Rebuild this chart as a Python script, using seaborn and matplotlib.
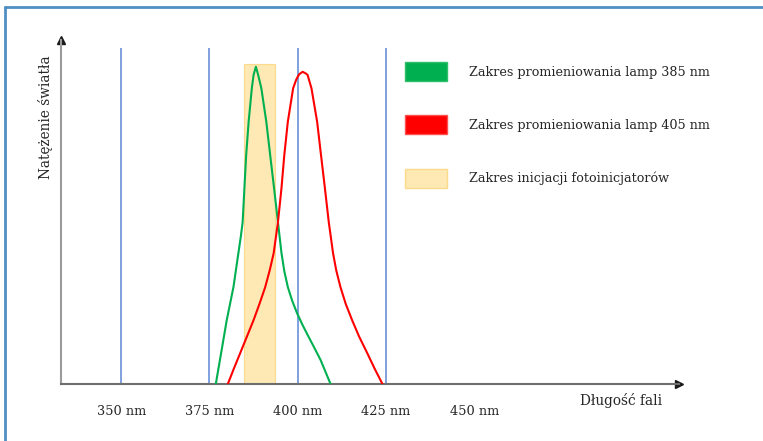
import numpy as np
import pandas as pd
import matplotlib
matplotlib.use('Agg')
import matplotlib.pyplot as plt
import seaborn as sns
from matplotlib.patches import Patch
from matplotlib.lines import Line2D

# values (wavelength in nm, relative intensity)
green_nm = [376.8, 378.3, 379.9, 381.8, 383.2, 383.9, 384.4, 384.9, 385.4, 386.1, 387.0, 387.5,
            388.15, 388.8, 389.7, 391.1, 392.2, 393.3, 394.4, 395.4, 396.2, 397.2, 398.4, 399.8,
            401.4, 403.1, 404.8, 406.5, 409.3]
green_val = [0, 9.7, 20.1, 30.5, 41.2, 46.5, 50.9, 61.6, 72.0, 82.5, 93.0, 97.2,
             99.8, 97.2, 93.0, 82.5, 72.0, 61.6, 50.9, 41.2, 35.5, 30.5, 26.3, 22.3,
             18.5, 14.8, 11.2, 7.5, 0]
red_nm = [380.2, 381.9, 383.7, 385.6, 387.5, 389.2, 390.8, 392.1, 393.2, 394.4, 395.4, 396.2,
          397.2, 398.7, 399.6, 400.4, 401.4, 402.4, 402.8, 403.9, 405.5, 406.6, 407.7, 408.8,
          410.0, 410.9, 412.1, 413.6, 415.4, 417.4, 419.7, 421.8, 424.0]
red_val = [0, 4.8, 9.7, 14.9, 20.1, 25.3, 30.5, 35.9, 41.2, 50.9, 61.6, 72.0,
           82.5, 93.0, 95.8, 97.4, 98.2, 97.6, 97.2, 93.0, 82.5, 72.0, 61.6, 50.9,
           41.2, 35.8, 30.5, 25.2, 20.1, 14.9, 9.7, 4.8, 0]
band_start, band_end, band_top = 384.7, 393.5, 100.8
ref_lines = [350, 375, 400, 425]
tick_pos = [350, 375, 400, 425, 450]
tick_labels = ['350 nm', '375 nm', '400 nm', '425 nm', '450 nm']
legend_labels = ['Zakres promieniowania lamp 385 nm',
                 'Zakres promieniowania lamp 405 nm',
                 'Zakres inicjacji fotoinicjatorów']

sns.set_style('white')
plt.rcParams['font.family'] = ['DejaVu Serif']

fig = plt.figure(figsize=(7.63, 4.41), dpi=100)
W, H = 763, 441
ax = fig.add_axes([61 / W, (H - 384) / H, (679 - 61) / W, (384 - 40) / H])

ax.bar((band_start + band_end) / 2, band_top, width=band_end - band_start,
       color='#FEE9B4', edgecolor='#FBDA8C', linewidth=0.8, zorder=1)
ax.vlines(ref_lines, 0, 105.7, color='#5B87D6', linewidth=1.1, zorder=2)

df_g = pd.DataFrame({'nm': green_nm, 'val': green_val})
df_r = pd.DataFrame({'nm': red_nm, 'val': red_val})
sns.lineplot(data=df_g, x='nm', y='val', color='#00B050', linewidth=1.5, sort=False, ax=ax, zorder=3)
sns.lineplot(data=df_r, x='nm', y='val', color='#FF0000', linewidth=1.5, sort=False, ax=ax, zorder=3)

ax.set_xlim(332.95, 508.0)
ax.set_ylim(0, 108.2)

for s in ['top', 'right']:
    ax.spines[s].set_visible(False)
ax.spines['left'].set_color('#9a9a9a')
ax.spines['left'].set_linewidth(1.5)
ax.spines['bottom'].set_color('#6e6e6e')
ax.spines['bottom'].set_linewidth(1.5)
ax.plot(1, 0, '>', color='#1a1a1a', markersize=6, transform=ax.transAxes, clip_on=False)
ax.plot(0, 1, '^', color='#1a1a1a', markersize=6, transform=ax.transAxes, clip_on=False)

ax.set_xticks(tick_pos)
ax.set_xticklabels(tick_labels, fontsize=9.3, color='#262626')
ax.tick_params(axis='x', length=0, pad=15)
ax.set_yticks([])
ax.set_xlabel('')
ax.set_ylabel('Natężenie światła', fontsize=9.8, color='#262626')
ax.yaxis.set_label_coords(-0.013, 0.775)
ax.text(491.5, -5.2, 'Długość fali', fontsize=9.8, color='#262626',
        ha='center', va='center', clip_on=False)

handles = [Patch(facecolor='#00B050', edgecolor='#2fbf6a'),
           Patch(facecolor='#FF0000', edgecolor='#ff5050'),
           Patch(facecolor='#FEE9B4', edgecolor='#FBDA8C')]
ax.legend(handles, legend_labels, loc='upper left', bbox_to_anchor=((405 - 61) / 618, (384 - 62) / 344),
          frameon=False, fontsize=9.2, handlelength=3.3, handleheight=1.9,
          handletextpad=1.7, labelspacing=2.7, borderpad=0, borderaxespad=0,
          labelcolor='#262626')

fig.add_artist(Line2D([5 / W, 1], [(H - 7) / H, (H - 7) / H], color='#4F8FC4', linewidth=2))
fig.add_artist(Line2D([5 / W, 5 / W], [0, (H - 7) / H], color='#4F8FC4', linewidth=2))

fig.savefig('out.png', dpi=100)
